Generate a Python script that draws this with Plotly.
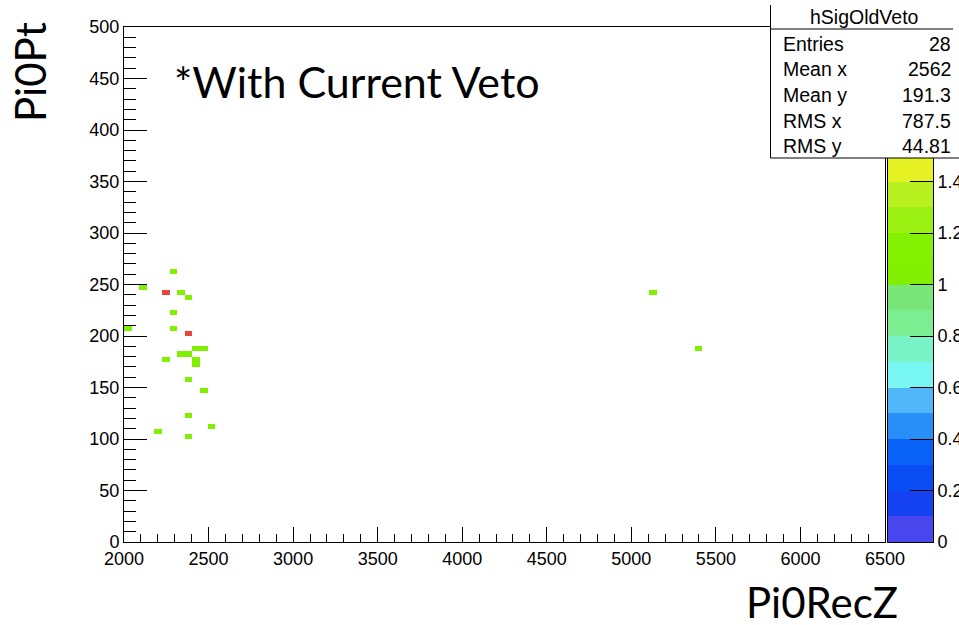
import numpy as np
import plotly.graph_objects as go

# ---- histogram contents (bin centres and counts) ----
pi0_rec_z = [2292.5, 2112.5, 2247.5, 2337.5, 2382.5, 2292.5, 2022.5, 2292.5,
             2382.5, 2427.5, 2472.5, 2337.5, 2382.5, 2247.5, 2427.5, 2427.5,
             2382.5, 2472.5, 2382.5, 2517.5, 2202.5, 2382.5, 5127.5, 5397.5]
pi0_pt = [262.5, 247.5, 242.5, 242.5, 237.5, 222.5, 207.5, 207.5,
          202.5, 187.5, 187.5, 182.5, 182.5, 177.5, 177.5, 172.5,
          157.5, 147.5, 122.5, 112.5, 107.5, 102.5, 242.5, 187.5]
counts = [1, 1, 2, 1, 1, 1, 1, 1,
          2, 1, 1, 1, 1, 1, 1, 1,
          1, 1, 1, 1, 1, 1, 1, 1]

# binning: 100 x 100 bins
x_edges = np.linspace(2000, 6500, 101)
y_edges = np.linspace(0, 500, 101)

# statistics box
stats_title = "hSigOldVeto"
stats_labels = ["Entries", "Mean x", "Mean y", "RMS x", "RMS y"]
stats_values = ["28", "2562", "191.3", "787.5", "44.81"]

# palette: 20 contour levels between 0 and 2
z_max = 2.0
palette = ["#4A46EE", "#1442F0", "#0A4CF4", "#0862F8", "#288EF8",
           "#50B6F8", "#78F6F2", "#78F4C8", "#7CEE92", "#78E678",
           "#80F000", "#84F002", "#9AF010", "#B8F020", "#E6F224",
           "#F8D224", "#F8AA28", "#F88230", "#F05A38", "#E8453C"]
# palette-axis labels left uncovered by the statistics box
palette_ticks = [0, 0.2, 0.4, 0.6, 0.8, 1.0, 1.2, 1.4]
palette_ticktext = ["0", "0.2", "0.4", "0.6", "0.8", "1", "1.2", "1.4"]

H, _, _ = np.histogram2d(pi0_rec_z, pi0_pt, bins=[x_edges, y_edges], weights=counts)
Z = H.T.astype(object)
Z[H.T == 0] = None

# discrete colorscale (boundaries nudged so that exact level values go to the upper band)
n = len(palette)
cs = []
for i, c in enumerate(palette):
    lo = 0.0 if i == 0 else i / n - 1e-4
    hi = 1.0 if i == n - 1 else (i + 1) / n - 1e-4
    cs.append([lo, c])
    cs.append([hi, c])

# page geometry (pixels)
W, Hpx = 959, 625
ML, MR, MT, MB = 124, 26, 27, 83
PW, PH = W - ML - MR, Hpx - MT - MB


def fx(px):
    return (px - ML) / PW


def fy(py):
    return (Hpx - MB - py) / PH


fig = go.Figure()

fig.add_trace(go.Heatmap(
    x=x_edges, y=y_edges, z=Z, zmin=0, zmax=z_max,
    colorscale=cs, showscale=False, xaxis="x", yaxis="y",
    hoverongaps=False,
))

# palette axis drawn as a thin heatmap
levels = np.linspace(0, z_max, n + 1)
mids = (levels[:-1] + levels[1:]) / 2
fig.add_trace(go.Heatmap(
    x=[0, 1], y=levels, z=[[m] for m in mids], zmin=0, zmax=z_max,
    colorscale=cs, showscale=False, xaxis="x2", yaxis="y2",
))

tick_font = dict(family="Liberation Sans, Arial, sans-serif", size=18, color="black")

fig.update_layout(
    width=W, height=Hpx,
    margin=dict(l=ML, r=MR, t=MT, b=MB, autoexpand=False),
    paper_bgcolor="white", plot_bgcolor="white",
    showlegend=False,
    xaxis=dict(
        domain=[0, fx(885)], range=[2000, 6500],
        tickmode="linear", tick0=2000, dtick=500,
        ticks="inside", ticklen=15, tickcolor="black", tickwidth=1,
        minor=dict(dtick=100, ticks="inside", ticklen=8, tickcolor="black"),
        showline=True, linecolor="black", linewidth=1, mirror=True,
        showgrid=False, zeroline=False, tickfont=tick_font, anchor="y",
        automargin=False,
    ),
    yaxis=dict(
        domain=[0, 1], range=[0, 500],
        tickmode="linear", tick0=0, dtick=50,
        ticks="inside", ticklen=23, tickcolor="black", tickwidth=1,
        minor=dict(dtick=10, ticks="inside", ticklen=12, tickcolor="black"),
        showline=True, linecolor="black", linewidth=1, mirror=True,
        showgrid=False, zeroline=False, tickfont=tick_font, anchor="x",
        automargin=False,
    ),
    xaxis2=dict(
        domain=[fx(888), fx(933)], range=[0, 1],
        showticklabels=False, ticks="", showgrid=False, zeroline=False,
        showline=True, linecolor="black", linewidth=1, mirror=True,
        anchor="y2", automargin=False,
    ),
    yaxis2=dict(
        domain=[0, 1], range=[0, z_max], side="right",
        tickmode="array", tickvals=palette_ticks, ticktext=palette_ticktext,
        ticks="inside", ticklen=23, tickcolor="black", tickwidth=1,
        showline=True, linecolor="black", linewidth=1, mirror=True,
        showgrid=False, zeroline=False, tickfont=tick_font, anchor="x2",
        automargin=False,
    ),
)

# statistics box
box_l, box_r, box_t, box_b = 770.5, 980, 5, 158
fig.add_shape(type="rect", xref="paper", yref="paper", layer="above",
              x0=fx(box_l), x1=fx(box_r), y0=fy(box_b), y1=fy(box_t),
              fillcolor="white", line=dict(width=0))
for (x0, y0, x1, y1) in [(box_l, box_t, box_l, box_b),
                         (box_l, box_b, box_r, box_b),
                         (box_l, 29, 953, 29)]:
    fig.add_shape(type="line", xref="paper", yref="paper", layer="above",
                  x0=fx(x0), x1=fx(x1), y0=fy(y0), y1=fy(y1),
                  line=dict(color="black", width=1))

stat_font = dict(family="Liberation Sans, Arial, sans-serif", size=19.5, color="black")
fig.add_annotation(xref="paper", yref="paper", x=fx(864), y=fy(17),
                   text=stats_title, showarrow=False, font=stat_font,
                   xanchor="center", yanchor="middle")
row_y = [44, 69.5, 95, 120.5, 146]
for lab, val, ry in zip(stats_labels, stats_values, row_y):
    fig.add_annotation(xref="paper", yref="paper", x=fx(781), y=fy(ry),
                       text=lab, showarrow=False, font=stat_font,
                       xanchor="left", yanchor="middle")
    fig.add_annotation(xref="paper", yref="paper", x=fx(953), y=fy(ry),
                       text=val, showarrow=False, font=stat_font,
                       xanchor="right", yanchor="middle")

# titles
big_font = dict(family="Lato, Carlito, Calibri, sans-serif", size=42, color="black")
fig.add_annotation(xref="paper", yref="paper", x=fx(822), y=fy(602),
                   text="Pi0RecZ", showarrow=False, font=big_font,
                   xanchor="center", yanchor="middle", height=44)
fig.add_annotation(xref="paper", yref="paper", x=fx(30), y=fy(72),
                   text="Pi0Pt", showarrow=False, font=big_font, textangle=-90,
                   xanchor="center", yanchor="middle")
fig.add_annotation(xref="paper", yref="paper", x=fx(172), y=fy(82),
                   text="*With Current Veto", showarrow=False,
                   font=dict(family="Lato, Carlito, Calibri, sans-serif", size=43, color="black"),
                   xanchor="left", yanchor="middle")

fig.write_html("out.html")
